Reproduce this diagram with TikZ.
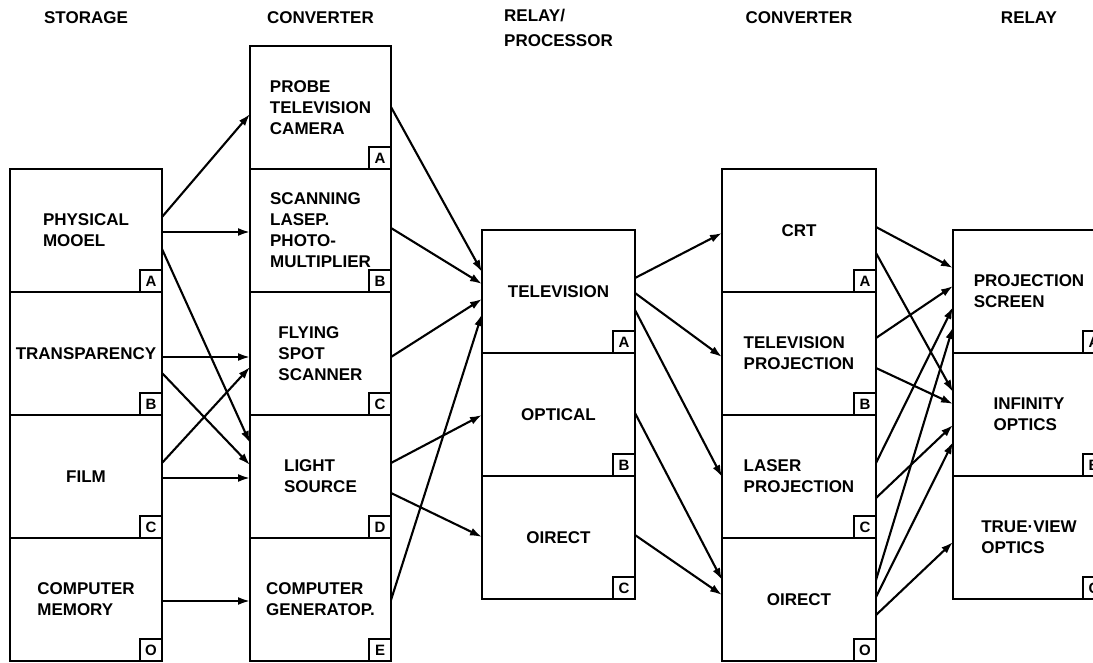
\documentclass[tikz,border=0pt]{standalone}
\usepackage{fontspec}
\setmainfont{Liberation Sans}
\usetikzlibrary{arrows.meta, positioning}

\tikzset{
  blk/.style={draw, line width=0.75pt, inner sep=0pt, outer sep=0pt,
    minimum height=61.5pt, align=left,
    font=\fontsize{8.5}{10.5}\selectfont\bfseries},
  tag/.style={draw, line width=0.75pt, anchor=south east, minimum size=11pt,
    inner sep=0pt, outer sep=0pt, font=\fontsize{7.5}{8}\selectfont\bfseries},
  hdr/.style={align=left, font=\fontsize{8.5}{12.5}\selectfont\bfseries},
  link/.style={line width=1.05pt, -{Latex[length=6pt,width=4pt]}},
}

\begin{document}
\begin{tikzpicture}[x=0.5pt, y=-0.5pt]
  \useasboundingbox (0,0) rectangle (1093,663);
  \clip (0,0) rectangle (1093,663);

  % storage
  \node[blk, minimum width=76pt, anchor=north west] (pmodel) at (10,169) {PHYSICAL\\MOOEL};
  \node[blk, minimum width=76pt, below=0pt of pmodel] (transp) {TRANSPARENCY};
  \node[blk, minimum width=76pt, below=0pt of transp] (film) {FILM};
  \node[blk, minimum width=76pt, below=0pt of film] (cmem) {COMPUTER\\MEMORY};

  % converter
  \node[blk, minimum width=70.5pt, anchor=north west] (probe) at (250,46) {PROBE\\TELEVISION\\CAMERA};
  \node[blk, minimum width=70.5pt, below=0pt of probe] (laser) {SCANNING\\LASEP.\\PHOTO-\\MULTIPLIER};
  \node[blk, minimum width=70.5pt, below=0pt of laser] (fspot) {FLYING\\SPOT\\SCANNER};
  \node[blk, minimum width=70.5pt, below=0pt of fspot] (light) {LIGHT\\SOURCE};
  \node[blk, minimum width=70.5pt, below=0pt of light] (cgen) {COMPUTER\\GENERATOP.};

  % relay / processor
  \node[blk, minimum width=76.5pt, anchor=north west] (tv) at (482,230) {TELEVISION};
  \node[blk, minimum width=76.5pt, below=0pt of tv] (optical) {OPTICAL};
  \node[blk, minimum width=76.5pt, below=0pt of optical] (direct) {OIRECT};

  % converter
  \node[blk, minimum width=77pt, anchor=north west] (crt) at (722,169) {CRT};
  \node[blk, minimum width=77pt, below=0pt of crt] (tvproj) {TELEVISION\\PROJECTION};
  \node[blk, minimum width=77pt, below=0pt of tvproj] (lproj) {LASER\\PROJECTION};
  \node[blk, minimum width=77pt, below=0pt of lproj] (odirect) {OIRECT};

  % relay
  \node[blk, minimum width=76pt, anchor=north west] (pscreen) at (953,230) {PROJECTION\\SCREEN};
  \node[blk, minimum width=76pt, below=0pt of pscreen] (infinity) {INFINITY\\OPTICS};
  \node[blk, minimum width=76pt, below=0pt of infinity] (trueview) {TRUE·VIEW\\OPTICS};

  % letter tags
  \foreach \b/\t in {pmodel/A, transp/B, film/C, cmem/O,
                     probe/A, laser/B, fspot/C, light/D, cgen/E,
                     tv/A, optical/B, direct/C,
                     crt/A, tvproj/B, lproj/C, odirect/O,
                     pscreen/A, infinity/B, trueview/C}
    \node[tag] (\b-tag) at (\b.south east) {\t};

  % headings
  \node[hdr] (hstore) at (pmodel.north |- 0,18) {STORAGE};
  \node[hdr] (hconv) at (probe.north |- 0,18) {CONVERTER};
  \node[hdr] (hproc) at (tv.north |- 0,28) {RELAY/\\PROCESSOR};
  \node[hdr] (hconv2) at (crt.north |- 0,18) {CONVERTER};
  \node[hdr] (hrelay) at (pscreen.north |- 0,18) {RELAY};

  % storage -> converter
  \draw[link] (pmodel.east |- 0,217) -- (probe.west |- 0,114);
  \draw[link] (pmodel.east |- 0,232) -- (laser.west |- 0,232);
  \draw[link] (pmodel.east |- 0,249) -- (light.west |- 0,443);
  \draw[link] (transp.east |- 0,357) -- (fspot.west |- 0,357);
  \draw[link] (transp.east |- 0,373) -- (light.west |- 0,465);
  \draw[link] (film.east |- 0,463) -- (fspot.west |- 0,367);
  \draw[link] (film.east |- 0,478) -- (light.west |- 0,478);
  \draw[link] (cmem.east |- 0,601) -- (cgen.west |- 0,601);

  % converter -> relay/processor
  \draw[link] (probe.east |- 0,107) -- (tv.west |- 0,272);
  \draw[link] (laser.east |- 0,228) -- (tv.west |- 0,284);
  \draw[link] (fspot.east |- 0,357) -- (tv.west |- 0,299);
  \draw[link] (cgen.east |- 0,600) -- (tv.west |- 0,314);
  \draw[link] (light.east |- 0,463) -- (optical.west |- 0,415);
  \draw[link] (light.east |- 0,493) -- (direct.west |- 0,537);

  % relay/processor -> converter
  \draw[link] (tv.east |- 0,278) -- (crt.west |- 0,233);
  \draw[link] (tv.east |- 0,293) -- (tvproj.west |- 0,357);
  \draw[link] (tv.east |- 0,310) -- (lproj.west |- 0,477);
  \draw[link] (optical.east |- 0,413) -- (odirect.west |- 0,580);
  \draw[link] (direct.east |- 0,535) -- (odirect.west |- 0,595);

  % converter -> relay
  \draw[link] (crt.east |- 0,227) -- (pscreen.west |- 0,268);
  \draw[link] (crt.east |- 0,253) -- (infinity.west |- 0,392);
  \draw[link] (tvproj.east |- 0,338) -- (pscreen.west |- 0,286);
  \draw[link] (tvproj.east |- 0,368) -- (infinity.west |- 0,404);
  \draw[link] (lproj.east |- 0,463) -- (pscreen.west |- 0,307);
  \draw[link] (lproj.east |- 0,498) -- (infinity.west |- 0,425);
  \draw[link] (odirect.east |- 0,580) -- (pscreen.west |- 0,327);
  \draw[link] (odirect.east |- 0,597) -- (infinity.west |- 0,442);
  \draw[link] (odirect.east |- 0,615) -- (trueview.west |- 0,542);
\end{tikzpicture}
\end{document}
